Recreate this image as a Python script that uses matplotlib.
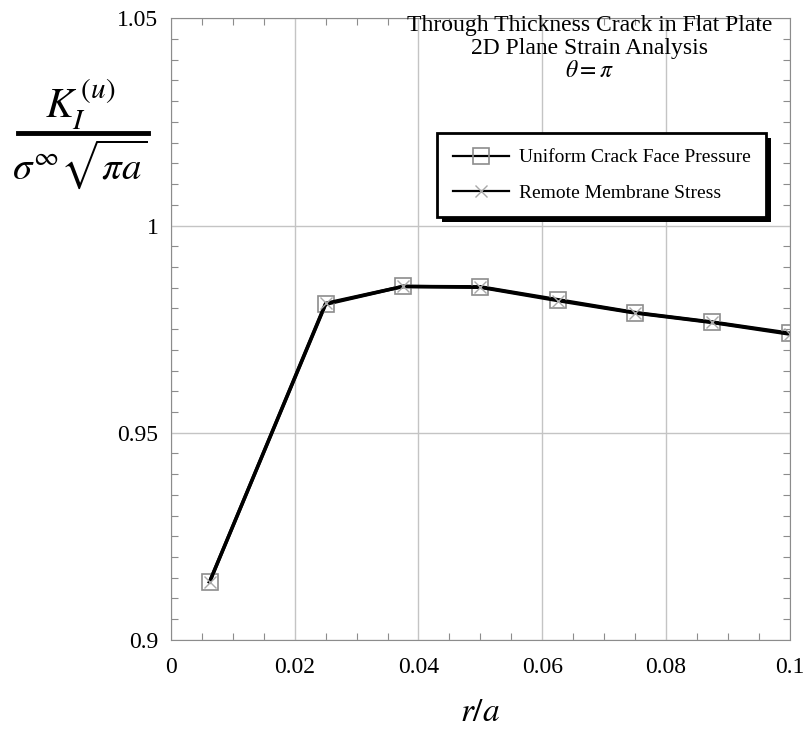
import matplotlib
matplotlib.use("Agg")
import matplotlib.pyplot as plt
from matplotlib.lines import Line2D
from matplotlib.patches import Rectangle
import numpy as np

plt.rcParams['font.family'] = ['Liberation Serif', 'DejaVu Serif']
plt.rcParams['mathtext.fontset'] = 'stix'

# data
r_a = [0.00625, 0.025, 0.0375, 0.05, 0.0625, 0.075, 0.0875, 0.1]
k_pressure = [0.914, 0.981, 0.9853, 0.9852, 0.9821, 0.979, 0.9767, 0.9740]
k_membrane = [0.914, 0.9812, 0.9853, 0.9851, 0.9819, 0.9789, 0.9766, 0.9738]

x_ticks = [0, 0.02, 0.04, 0.06, 0.08, 0.1]
x_labels = ['0', '0.02', '0.04', '0.06', '0.08', '0.1']
y_ticks = [0.9, 0.95, 1.0, 1.05]
y_labels = ['0.9', '0.95', '1', '1.05']

fig = plt.figure(figsize=(8.1, 7.33), dpi=100)
ax = fig.add_axes([0.211, 0.127, 0.764, 0.848])

ax.plot(r_a, k_pressure, color='black', lw=2.5, marker='s', ms=11,
        mfc='none', mec='#8c8c8c', mew=1.2, label='Uniform Crack Face Pressure')
ax.plot(r_a, k_membrane, color='black', lw=2.5, marker='x', ms=8,
        mec='#a8a8a8', mew=1.0, label='Remote Membrane Stress')

ax.set_xlim(0, 0.1)
ax.set_ylim(0.9, 1.05)
ax.set_xticks(x_ticks)
ax.set_xticklabels(x_labels)
ax.set_yticks(y_ticks)
ax.set_yticklabels(y_labels)
ax.set_xticks(np.arange(0, 0.1001, 0.005), minor=True)
ax.set_yticks(np.arange(0.9, 1.0501, 0.005), minor=True)
ax.tick_params(which='both', direction='in', top=True, right=True, color='#8c8c8c')
ax.tick_params(which='major', length=0, labelsize=17)
ax.tick_params(axis='x', which='major', pad=12)
ax.tick_params(axis='y', which='major', pad=9)
ax.tick_params(which='minor', length=5, width=0.8)
ax.grid(True, which='major', color='#c4c4c4', lw=1)
for s in ax.spines.values():
    s.set_color('#8c8c8c')

ax.set_xlabel('$r/a$', fontsize=24, labelpad=14)

# annotation block
tx = 0.677
ax.text(tx, 0.989, 'Through Thickness Crack in Flat Plate', transform=ax.transAxes,
        ha='center', va='center', fontsize=17)
ax.text(tx, 0.952, '2D Plane Strain Analysis', transform=ax.transAxes,
        ha='center', va='center', fontsize=17)
ax.text(tx, 0.915, r'$\theta = \pi$', transform=ax.transAxes,
        ha='center', va='center', fontsize=17)

leg = ax.legend(loc='upper right', bbox_to_anchor=(0.962, 0.815), fontsize=14,
                handlelength=2.9, handletextpad=0.5, borderpad=0.8, labelspacing=0.9,
                borderaxespad=0, fancybox=False, framealpha=1, edgecolor='black')
leg.get_frame().set_linewidth(2)
leg.set_zorder(10)
for h in leg.get_lines():
    h.set_linewidth(1.6)

# drop shadow of the legend box
fig.canvas.draw()
bb = leg.get_window_extent()
shadow = Rectangle((bb.x0 + 5, bb.y0 - 5), bb.width, bb.height, transform=None,
                   facecolor='black', edgecolor='none', zorder=9, clip_on=False)
ax.add_patch(shadow)

# y label as a stacked fraction
fig.text(0.099, 0.857, r'$K_I^{\,(u)}$', ha='center', va='center', fontsize=30)
fig.text(0.099, 0.776, r'$\sigma^{\infty}\sqrt{\pi a}$', ha='center', va='center', fontsize=28)
fig.add_artist(Line2D([0.022, 0.183], [0.818, 0.818], color='black', lw=3.5,
                      transform=fig.transFigure))

fig.savefig('out.png', dpi=100)
